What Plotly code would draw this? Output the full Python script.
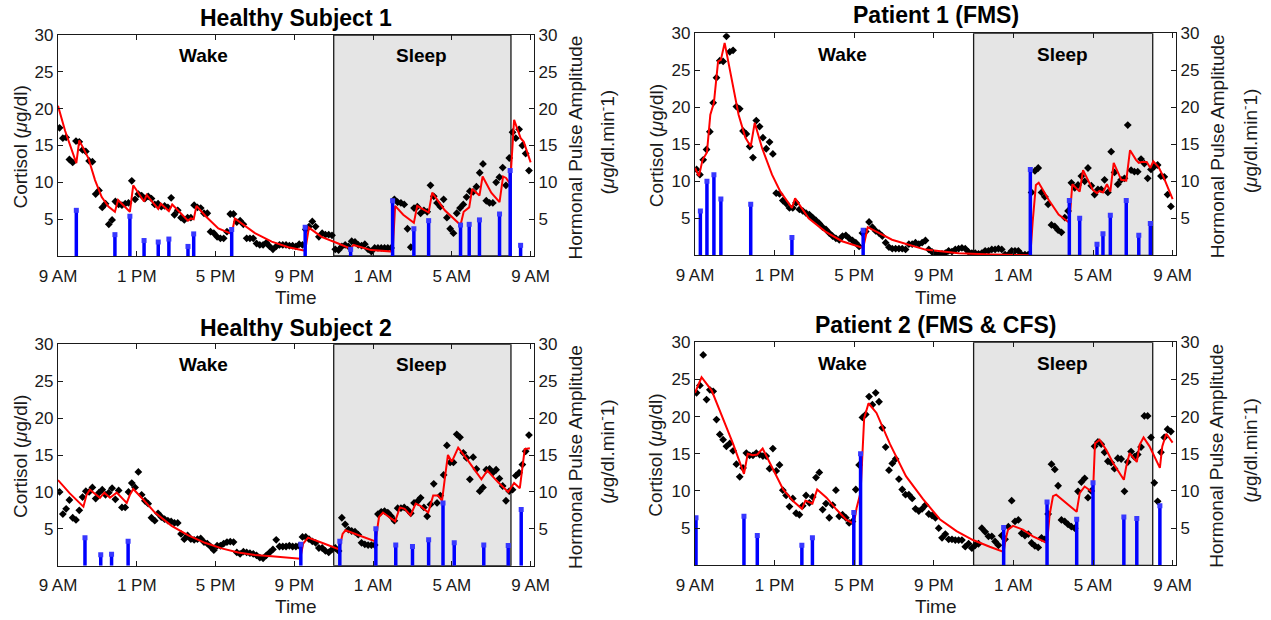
import plotly.graph_objects as go

W, H = 1271, 620
FONT = "Liberation Sans, Arial, Helvetica, sans-serif"

# ---------------- shared axis data ----------------
TICK_HOURS = [0, 4, 8, 12, 16, 20, 24]          # hours after 9 AM
TICK_LABELS = ["9 AM", "1 PM", "5 PM", "9 PM", "1 AM", "5 AM", "9 AM"]
Y_TICKS = [5, 10, 15, 20, 25, 30]
X_END = 24.17
SLEEP_START, SLEEP_END = 14.0, 23.0              # 11 PM .. 8 AM
SAMPLE_T0, SAMPLE_DT = 0.08, 1 / 6               # 10-minute sampling

TITLES = ["Healthy Subject 1", "Patient 1 (FMS)", "Healthy Subject 2", "Patient 2 (FMS & CFS)"]

# ---------------- Healthy Subject 1 ----------------
HS1_CORT = [
    17.4, 16.0, 16.1, 13.1, 12.7, 15.6,
    15.5, 14.4, 14.2, 12.9, 12.8, 8.4,
    8.9, 6.6, 7.1, 4.3, 4.9, 7.4,
    7.0, 6.9, 7.1, 7.2, 10.2, 7.7,
    8.4, 8.2, 7.8, 8.1, 7.8, 7.0,
    7.1, 6.7, 6.8, 6.6, 7.9, 5.6,
    6.2, 5.2, 4.9, 5.2, 5.2, 6.9,
    6.6, 6.5, 5.8, 5.8, 3.3, 3.1,
    2.6, 2.4, 2.4, 3.3, 5.7, 5.7,
    4.6, 4.8, 4.3, 2.4, 2.4, 2.4,
    1.7, 1.5, 1.5, 1.8, 1.3, 0.9,
    1.3, 1.5, 1.5, 1.5, 1.4, 1.4,
    1.3, 1.6, 1.5, 3.6, 4.0, 4.7,
    4.0, 2.6, 3.1, 2.9, 2.9, 2.8,
    0.9, 0.8, 1.3, 1.5, 1.3, 2.0,
    1.9, 1.5, 1.4, 1.6, 0.9, 0.6,
    1.1, 1.1, 1.1, 1.1, 1.1, 1.1,
    7.7, 7.3, 7.2, 7.0, 3.7, 1.2,
    6.5, 6.7, 5.8, 6.2, 6.0, 9.6,
    8.1, 7.2, 6.7, 7.7, 5.2, 3.7,
    3.1, 5.8, 6.5, 7.0, 8.0, 8.8,
    8.7, 9.4, 11.3, 12.5, 7.5, 7.2,
    7.2, 10.0, 10.7, 12.0, 9.6, 13.3,
    16.8, 16.0, 17.2, 15.0, 13.9, 11.6,
]
HS1_FIT_T = [0, 0.36, 0.93, 1.08, 1.54, 1.88, 2.22, 2.56, 2.89, 3.05, 3.65, 3.82, 4.37, 4.5, 5.09,
             5.22, 5.63, 5.8, 6.6, 6.75, 6.89, 7.03, 7.5, 8.14, 8.82, 8.98, 10.0, 10.85, 11.7, 12.55,
             12.74, 13.38, 14.23, 14.86, 15.0, 15.9, 16.99, 17.12, 17.53, 18.07, 18.24, 18.82, 19.0,
             19.64, 20.44, 20.6, 20.88, 21.03, 21.4, 21.56, 22.0, 22.42, 22.6, 22.75, 22.96, 23.16,
             23.49, 23.65, 24.0]
HS1_FIT_V = [20.4, 17.0, 12.6, 15.7, 13.3, 10.3, 8.0, 6.7, 6.0, 7.6, 6.0, 9.6, 7.4, 8.3, 6.4,
             7.1, 6.1, 7.0, 4.8, 5.1, 5.0, 6.8, 5.4, 3.75, 3.0, 5.1, 3.1, 1.95, 1.2, 0.7,
             3.85, 2.6, 1.7, 1.0, 1.5, 0.8, 0.6, 6.8, 5.6, 4.5, 6.8, 5.9, 8.6,
             6.2, 4.2, 6.0, 6.6, 9.1, 8.2, 10.8, 8.6, 7.3, 10.8, 10.6, 9.8, 18.5,
             16.0, 15.5, 12.7]
HS1_PULSE_T = [0.93, 2.89, 3.65, 4.37, 5.09, 5.63, 6.60, 6.89, 8.82, 12.55, 14.86, 16.99, 18.07,
               18.82, 20.44, 20.88, 21.40, 22.42, 22.96, 23.49]
HS1_PULSE_A = [6.2, 2.9, 5.4, 2.1, 1.9, 2.3, 1.3, 3.0, 3.6, 3.9, 0.9, 7.5, 3.7, 4.8, 4.2, 4.3, 4.9,
               5.7, 11.6, 1.45]

# ---------------- Patient 1 (FMS) ----------------
P1_CORT = [
    11.6, 10.9, 12.9, 14.3, 16.7, 20.6,
    24.0, 26.3, 26.2, 29.6, 27.5, 27.7,
    20.1, 19.8, 16.8, 16.4, 14.7, 13.2,
    18.2, 17.4, 15.9, 14.4, 15.3, 13.7,
    8.4, 8.3, 7.4, 7.0, 6.4, 6.4,
    7.1, 6.2, 6.0, 5.7, 5.5, 5.1,
    4.7, 4.3, 3.8, 3.5, 3.0, 2.6,
    2.3, 2.1, 2.6, 2.7, 2.3, 2.0,
    1.7, 1.2, 3.0, 3.2, 4.5, 3.8,
    3.3, 3.0, 2.6, 1.7, 1.1, 0.9,
    0.9, 0.9, 0.9, 0.8, 1.5, 1.5,
    1.7, 1.5, 1.7, 2.0, 0.8, 0.45,
    0.2, 0.1, 0.2, 0.3, 0.6, 0.5,
    0.8, 0.9, 1.0, 0.9, 0.45, 0.3,
    0.3, 0.2, 0.3, 0.6, 0.6, 0.8,
    0.8, 0.9, 0.8, 0.1, 0.1, 0.6,
    0.6, 0.6, 0.1, 0.1, 0.1, 8.5,
    11.4, 11.8, 8.5, 7.9, 6.9, 4.1,
    3.9, 3.4, 3.1, 5.1, 6.0, 9.8,
    9.1, 9.5, 10.7, 10.0, 11.8, 9.4,
    8.2, 8.9, 8.9, 10.2, 8.5, 14.0,
    11.2, 9.6, 10.2, 10.4, 17.6, 11.5,
    11.3, 11.3, 13.0, 12.4, 10.4, 11.6,
    12.0, 12.2, 10.7, 10.6, 8.2, 6.6,
]
P1_FIT_T = [0, 0.2, 0.38, 0.6, 0.77, 0.95, 1.16, 1.3, 1.49, 1.86, 2.19, 2.53, 2.8, 3.0, 3.37, 3.87,
            4.29, 4.87, 5.03, 5.71, 6.55, 7.39, 8.45, 8.68, 9.9, 11.57, 13.25, 14.92, 16.85, 16.97,
            17.13, 17.27, 17.77, 18.27, 18.81, 18.96, 19.33, 19.5, 20.0, 20.2, 20.32, 20.5, 20.7,
            20.87, 21.04, 21.42, 21.67, 21.86, 22.16, 22.3, 22.45, 22.7, 22.88, 23.03, 23.3, 23.54,
            24.0]
P1_FIT_V = [11.8, 10.7, 12.9, 13.9, 19.0, 20.6, 26.2, 26.4, 28.7, 23.5, 19.0, 15.9, 14.7, 17.9, 14.5,
            10.9, 8.6, 6.4, 7.7, 5.0, 3.2, 1.9, 1.0, 3.8, 2.1, 0.77, 0.27, 0.1, 0.0, 4.6,
            9.5, 9.8, 7.5, 5.5, 4.4, 9.6, 8.6, 11.5, 8.8, 8.4, 8.7, 8.5, 9.6,
            8.6, 12.5, 10.2, 10.1, 14.2, 12.9, 12.5, 12.6, 12.6, 11.8, 12.7, 11.9, 10.6,
            7.6]
P1_PULSE_T = [0.27, 0.6, 0.95, 1.3, 2.8, 4.87, 8.45, 16.85, 18.81, 19.33, 20.2, 20.5, 20.87, 21.67,
              22.3, 22.88]
P1_PULSE_A = [6.0, 10.0, 10.9, 7.6, 6.9, 2.4, 3.4, 11.6, 7.4, 5.0, 1.5, 2.9, 5.4, 7.4, 2.7, 4.3]

# ---------------- Healthy Subject 2 ----------------
HS2_CORT = [
    10.0, 7.0, 7.7, 8.9, 6.5, 6.2,
    7.5, 9.3, 10.1, 10.0, 10.6, 9.1,
    9.9, 10.3, 9.6, 9.9, 10.5, 9.0,
    10.2, 7.9, 7.9, 10.0, 11.2, 10.6,
    12.7, 9.6, 8.8, 8.4, 6.5, 6.1,
    7.1, 6.6, 6.3, 6.1, 6.0, 5.8,
    5.8, 4.3, 3.6, 4.1, 3.6, 3.5,
    3.6, 3.7, 3.2, 3.0, 2.6, 2.1,
    2.7, 2.7, 3.0, 3.2, 3.25, 3.2,
    1.8, 1.6, 1.9, 1.8, 1.7, 1.6,
    1.4, 1.1, 1.0, 1.4, 1.8, 2.2,
    3.5, 2.6, 2.6, 2.6, 2.7, 2.6,
    2.6, 2.7, 3.9, 3.9, 3.6, 3.3,
    3.1, 2.4, 2.4, 2.0, 1.8, 2.2,
    2.4, 2.0, 6.5, 5.6, 4.9, 4.7,
    4.6, 4.2, 3.1, 2.9, 2.8, 2.8,
    2.8, 7.0, 7.3, 7.4, 7.2, 6.7,
    6.1, 7.8, 7.8, 7.9, 7.6, 7.1,
    8.5, 8.7, 9.2, 7.9, 6.7, 8.3,
    11.1, 8.5, 9.5, 12.3, 16.3, 14.0,
    14.0, 17.8, 17.4, 15.3, 14.6, 11.7,
    14.7, 13.1, 10.1, 10.6, 13.0, 13.1,
    12.6, 13.0, 11.8, 10.8, 8.8, 10.1,
    10.3, 12.2, 12.6, 13.7, 15.5, 17.7,
]
HS2_FIT_T = [0, 0.6, 1.29, 1.45, 1.62, 2.13, 2.35, 2.64, 2.98, 3.49, 3.65, 3.82, 4.28, 4.92, 5.77,
             6.62, 7.46, 8.31, 9.15, 10.0, 10.85, 11.69, 12.3, 12.45, 12.7, 13.5, 14.28, 14.45, 14.6,
             15.3, 16.12, 16.3, 16.5, 17.12, 17.36, 17.6, 17.9, 18.16, 18.4, 18.8, 19.05, 19.3, 19.5,
             19.68, 19.8, 20.0, 20.32, 20.83, 21.17, 21.5, 21.8, 22.35, 22.86, 23.16, 23.45, 23.7,
             23.96]
HS2_FIT_V = [11.6, 9.8, 8.0, 9.6, 10.3, 9.2, 9.9, 9.2, 9.9, 8.5, 9.6, 10.4, 9.1, 7.2, 5.4,
             4.1, 3.1, 2.35, 1.8, 1.45, 1.27, 1.08, 0.95, 3.0, 3.8, 3.0, 2.2, 4.3, 4.8,
             4.1, 3.3, 6.6, 7.2, 6.0, 7.9, 7.7, 6.8, 8.4, 8.1, 7.2, 9.5, 9.5, 8.8,
             12.6, 15.0, 14.1, 16.0, 14.2, 12.9, 11.7, 12.9, 11.3, 10.0, 11.2, 10.5, 15.8,
             15.9]
HS2_PULSE_T = [1.37, 2.17, 2.72, 3.56, 12.33, 14.31, 16.14, 17.15, 18.0, 18.82, 19.55, 20.12, 21.62,
               22.86, 23.52]
HS2_PULSE_A = [3.8, 1.5, 1.55, 3.3, 2.9, 3.3, 5.0, 2.8, 2.6, 3.5, 8.5, 3.1, 2.8, 2.75, 7.6]

# ---------------- Patient 2 (FMS & CFS) ----------------
P2_CORT = [
    23.2, 24.2, 28.3, 22.3, 23.6, 23.4,
    19.6, 17.6, 16.9, 16.0, 16.4, 15.4,
    13.6, 11.9, 13.1, 15.1, 14.8, 14.8,
    15.1, 14.9, 14.7, 14.7, 13.0, 15.7,
    12.7, 13.5, 10.1, 9.4, 7.9, 9.0,
    7.0, 6.8, 8.0, 9.4, 8.4, 9.2,
    11.8, 12.5, 7.5, 8.3, 6.4, 8.1,
    10.1, 6.6, 6.8, 6.4, 5.7, 5.9,
    10.2, 13.5, 19.9, 20.3, 22.7, 21.6,
    23.2, 22.0, 18.5, 15.9, 12.8, 13.7,
    14.3, 11.6, 10.2, 9.5, 9.5, 9.0,
    7.6, 7.3, 7.6, 8.1, 6.9, 6.7,
    6.4, 5.0, 3.7, 4.2, 3.5, 3.5,
    3.4, 3.4, 3.4, 2.5, 2.9, 2.3,
    2.7, 2.9, 5.0, 4.5, 3.9, 3.9,
    3.2, 2.7, 4.0, 3.5, 5.2, 8.7,
    5.9, 6.1, 4.3, 4.0, 4.2, 3.0,
    2.6, 2.4, 3.7, 3.5, 6.9, 13.6,
    12.9, 10.7, 6.1, 5.9, 5.5, 5.2,
    5.0, 9.95, 11.2, 11.7, 9.1, 10.0,
    16.0, 16.6, 16.3, 15.2, 14.0, 13.8,
    13.0, 14.4, 14.3, 9.95, 13.9, 15.3,
    14.6, 14.9, 15.9, 20.1, 20.1, 17.2,
    11.1, 8.6, 15.2, 17.2, 18.3, 18.0,
]
P2_FIT_T = [0, 0.33, 0.84, 1.42, 1.92, 2.46, 2.65, 2.9, 3.13, 3.4, 3.93, 4.43, 4.94, 5.37, 5.55,
            5.9, 6.14, 6.61, 7.11, 7.61, 7.98, 8.12, 8.32, 8.5, 8.72, 9.12, 9.8, 10.6, 11.46, 12.3,
            13.14, 13.97, 14.81, 15.51, 15.6, 15.73, 15.98, 16.48, 16.98, 17.69, 17.82, 17.99, 18.15,
            18.66, 19.18, 19.33, 19.58, 20.0, 20.1, 20.33, 20.67, 21.0, 21.55, 21.67, 21.84, 22.2,
            22.34, 22.54, 22.84, 23.36, 23.48, 23.68, 24.0]
P2_FIT_V = [23.2, 25.3, 23.5, 19.6, 16.3, 12.3, 15.0, 14.8, 14.9, 15.7, 12.9, 10.2, 8.6, 7.6, 8.7,
            8.3, 10.2, 9.1, 7.5, 6.1, 5.6, 7.7, 9.8, 19.8, 21.8, 20.5, 16.3, 12.0, 8.9, 6.2,
            4.6, 3.4, 2.5, 1.8, 3.4, 4.8, 5.3, 4.8, 3.9, 3.0, 6.8, 9.3, 9.5,
            8.4, 7.2, 9.7, 10.6, 9.8, 16.4, 16.9, 15.5, 13.8, 11.5, 13.3, 15.1, 13.9,
            16.2, 17.2, 16.0, 13.1, 16.0, 17.7, 16.5]
P2_PULSE_T = [0.05, 2.46, 3.13, 5.37, 5.9, 7.98, 8.32, 15.51, 17.69, 19.18, 20.0, 21.55, 22.2, 23.36]
P2_PULSE_A = [6.4, 6.6, 4.0, 2.7, 3.7, 7.1, 15.0, 5.1, 8.5, 6.2, 11.1, 6.5, 6.3, 8.0]

# ---------------- layout geometry (pixels) ----------------
PANELS = [
    dict(title=TITLES[0], cort=HS1_CORT, ft=HS1_FIT_T, fv=HS1_FIT_V, pt=HS1_PULSE_T, pa=HS1_PULSE_A,
         box=(58, 534, 35, 256), title_y=18, xlab_y=297, ltitle_x=20, r1=575, r2=606),
    dict(title=TITLES[1], cort=P1_CORT, ft=P1_FIT_T, fv=P1_FIT_V, pt=P1_PULSE_T, pa=P1_PULSE_A,
         box=(695, 1176, 33.3, 255.3), title_y=15, xlab_y=297, ltitle_x=656, r1=1217, r2=1249),
    dict(title=TITLES[2], cort=HS2_CORT, ft=HS2_FIT_T, fv=HS2_FIT_V, pt=HS2_PULSE_T, pa=HS2_PULSE_A,
         box=(58, 534, 344.3, 565.7), title_y=328, xlab_y=606, ltitle_x=20, r1=575, r2=606),
    dict(title=TITLES[3], cort=P2_CORT, ft=P2_FIT_T, fv=P2_FIT_V, pt=P2_PULSE_T, pa=P2_PULSE_A,
         box=(695, 1176, 342.3, 565.3), title_y=325, xlab_y=606, ltitle_x=656, r1=1217, r2=1249),
]

AX_COL = "#1a1a1a"
TXT_COL = "#1a1a1a"

fig = go.Figure()
annotations = []
shapes = []


def px_x(v):
    return v / W


def px_y(v):
    return 1 - v / H


for i, p in enumerate(PANELS):
    n = i + 1
    xa = "x" if n == 1 else f"x{n}"
    ya = "y" if n == 1 else f"y{n}"
    yr = f"y{n + 4}"
    x0, x1, y0, y1 = p["box"]

    times = [SAMPLE_T0 + k * SAMPLE_DT for k in range(len(p["cort"]))]
    sx, sy = [], []
    for t, a in zip(p["pt"], p["pa"]):
        sx += [t, t, None]
        sy += [0, a, None]

    fig.add_trace(go.Scatter(x=times, y=p["cort"], mode="markers", xaxis=xa, yaxis=ya,
                             marker=dict(symbol="diamond", size=6, color="black"),
                             showlegend=False, hoverinfo="skip"))
    fig.add_trace(go.Scatter(x=p["ft"], y=p["fv"], mode="lines", xaxis=xa, yaxis=ya,
                             line=dict(color="#ff0000", width=2),
                             showlegend=False, hoverinfo="skip"))
    fig.add_trace(go.Scatter(x=sx, y=sy, mode="lines", xaxis=xa, yaxis=yr,
                             line=dict(color="#0000ff", width=3.5),
                             showlegend=False, hoverinfo="skip"))
    fig.add_trace(go.Scatter(x=p["pt"], y=p["pa"], mode="markers", xaxis=xa, yaxis=yr,
                             marker=dict(symbol="square", size=5, color="#3838ff"),
                             showlegend=False, hoverinfo="skip"))

    xkey = "xaxis" if n == 1 else f"xaxis{n}"
    ykey = "yaxis" if n == 1 else f"yaxis{n}"
    yrkey = f"yaxis{n + 4}"

    common = dict(ticks="inside", ticklen=5, tickwidth=1.2, tickcolor=AX_COL,
                  showline=True, linecolor=AX_COL, linewidth=1.3,
                  showgrid=False, zeroline=False, automargin=False,
                  tickfont=dict(family=FONT, size=17, color=TXT_COL))
    fig.layout[xkey] = dict(domain=[px_x(x0), px_x(x1)], anchor=ya, range=[0, X_END],
                            tickmode="array", tickvals=TICK_HOURS, ticktext=TICK_LABELS,
                            mirror="ticks", ticklabelstandoff=4, **common)
    fig.layout[ykey] = dict(domain=[px_y(y1), px_y(y0)], anchor=xa, range=[0, 30],
                            tickmode="array", tickvals=Y_TICKS, mirror=True, **common)
    fig.layout[yrkey] = dict(overlaying=ya, anchor=xa, side="right", range=[0, 30],
                             tickmode="array", tickvals=Y_TICKS, **common)

    shapes.append(dict(type="rect", xref=xa, yref=ya, x0=SLEEP_START, x1=SLEEP_END, y0=0, y1=30,
                       fillcolor="#e5e5e5", line=dict(color=AX_COL, width=1.3), layer="below"))

    cx = (x0 + x1) / 2
    cy = (y0 + y1) / 2
    annotations += [
        dict(text=f"<b>{p['title']}</b>", x=px_x(cx), y=px_y(p["title_y"]), xref="paper", yref="paper",
             showarrow=False, xanchor="center", yanchor="middle",
             font=dict(family=FONT, size=23, color="black")),
        dict(text="<b>Wake</b>", x=7.4, y=27.2, xref=xa, yref=ya, showarrow=False,
             font=dict(family=FONT, size=19, color="black")),
        dict(text="<b>Sleep</b>", x=18.45, y=27.2, xref=xa, yref=ya, showarrow=False,
             font=dict(family=FONT, size=19, color="black")),
        dict(text="Time", x=px_x(cx), y=px_y(p["xlab_y"]), xref="paper", yref="paper",
             showarrow=False, xanchor="center", yanchor="middle",
             font=dict(family=FONT, size=19, color=TXT_COL)),
        dict(text="Cortisol (<i>μ</i>g/dl)", x=px_x(p["ltitle_x"]), y=px_y(cy + 2), xref="paper",
             yref="paper", showarrow=False, textangle=-90, xanchor="center", yanchor="middle",
             font=dict(family=FONT, size=19, color=TXT_COL)),
        dict(text="Hormonal Pulse Amplitude", x=px_x(p["r1"]), y=px_y(cy + 2), xref="paper",
             yref="paper", showarrow=False, textangle=-90, xanchor="center", yanchor="middle",
             font=dict(family=FONT, size=19, color=TXT_COL)),
        dict(text="(<i>μ</i>g/dl.min<sup>-</sup>1)", x=px_x(p["r2"]), y=px_y(cy - 3), xref="paper",
             yref="paper", showarrow=False, textangle=-90, xanchor="center", yanchor="middle",
             font=dict(family=FONT, size=19, color=TXT_COL)),
    ]

fig.update_layout(width=W, height=H, autosize=False, margin=dict(l=0, r=0, t=0, b=0),
                  paper_bgcolor="white", plot_bgcolor="white", showlegend=False,
                  annotations=annotations, shapes=shapes,
                  font=dict(family=FONT, color=TXT_COL))

fig.write_html("out.html", config={"displayModeBar": False},
               post_script="document.body.style.margin='0';document.body.style.overflow='hidden';")
